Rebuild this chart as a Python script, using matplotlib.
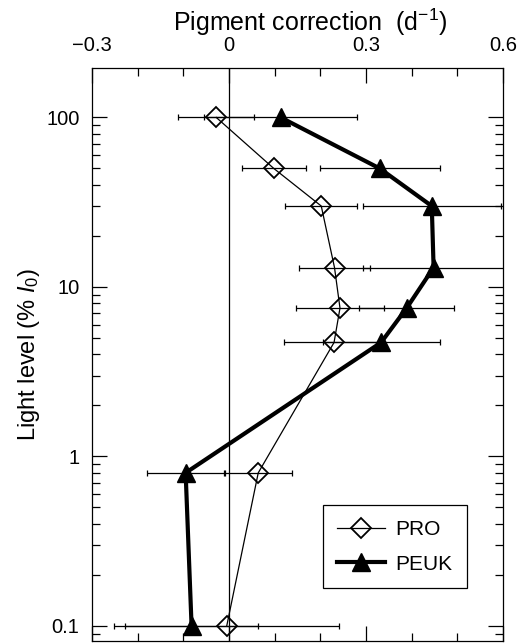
import matplotlib
matplotlib.use("Agg")
import matplotlib.pyplot as plt
from matplotlib.ticker import FixedLocator, LogLocator, NullFormatter, FixedFormatter

plt.rcParams["font.family"] = ["Liberation Sans", "DejaVu Sans"]
plt.rcParams["mathtext.fontset"] = "custom"
plt.rcParams["mathtext.rm"] = "Liberation Sans"
plt.rcParams["mathtext.it"] = "Liberation Sans:italic"

# light level (% I0) for each sampling depth
light = [100, 50, 30, 13, 7.5, 4.7, 0.8, 0.1]

pro_corr = [-0.028, 0.098, 0.202, 0.231, 0.243, 0.230, 0.064, -0.005]
pro_err = [0.083, 0.070, 0.079, 0.077, 0.097, 0.110, 0.073, 0.246]

peuk_corr = [0.113, 0.330, 0.444, 0.448, 0.389, 0.333, -0.095, -0.082]
peuk_err = [0.167, 0.131, 0.151, 0.155, 0.104, 0.128, 0.084, 0.146]

x_major = [-0.3, 0.0, 0.3, 0.6]
x_labels = ["\u22120.3", "0", "0.3", "0.6"]
x_minor = [-0.2, -0.1, 0.1, 0.2, 0.4, 0.5]
y_major = [0.1, 1, 10, 100]
y_labels = ["0.1", "1", "10", "100"]

fig = plt.figure(figsize=(5.19, 6.44), dpi=100)
ax = fig.add_axes([0.1773, 0.004, 0.7919, 0.8906])

ax.axvline(0, color="black", lw=0.9, zorder=1)

ax.errorbar(pro_corr, light, xerr=pro_err, fmt="none", ecolor="black",
            elinewidth=0.9, capsize=2.5, capthick=0.9, zorder=2)
ax.errorbar(peuk_corr, light, xerr=peuk_err, fmt="none", ecolor="black",
            elinewidth=0.9, capsize=2.5, capthick=0.9, zorder=2)

ax.plot(pro_corr, light, color="black", lw=0.9, marker="D", ms=10.5,
        mfc="none", mec="black", mew=1.3, label="PRO", zorder=3)
ax.plot(peuk_corr, light, color="black", lw=3, marker="^", ms=13,
        mfc="black", mec="black", label="PEUK", zorder=4)

ax.set_yscale("log")
ax.set_xlim(-0.3, 0.6)
ax.set_ylim(0.081, 196)

ax.xaxis.set_major_locator(FixedLocator(x_major))
ax.xaxis.set_major_formatter(FixedFormatter(x_labels))
ax.xaxis.set_minor_locator(FixedLocator(x_minor))
ax.yaxis.set_major_locator(FixedLocator(y_major))
ax.yaxis.set_major_formatter(FixedFormatter(y_labels))
ax.yaxis.set_minor_locator(LogLocator(base=10, subs=range(2, 10)))
ax.yaxis.set_minor_formatter(NullFormatter())

ax.tick_params(which="both", direction="in", top=True, bottom=True,
               left=True, right=True, labeltop=True, labelbottom=False,
               width=0.9, labelsize=14.5)
ax.tick_params(which="major", length=11, pad=9)
ax.tick_params(which="minor", length=5.5)

ax.xaxis.set_label_position("top")
ax.set_xlabel("Pigment correction  (d$^{-1}$)", fontsize=18, labelpad=4)
ax.xaxis.label.set_x(0.53)
ax.set_ylabel("Light level (% $\\mathit{I}_0$)", fontsize=17, labelpad=3)

for spine in ax.spines.values():
    spine.set_linewidth(0.9)

leg = ax.legend(loc="upper left", bbox_to_anchor=(0.561, 0.237),
                borderaxespad=0, fancybox=False, edgecolor="black",
                framealpha=1, fontsize=15, handlelength=2.3,
                labelspacing=0.75, borderpad=0.7, handletextpad=0.5)
leg.get_frame().set_linewidth(0.9)

fig.savefig("out.png", dpi=100)
